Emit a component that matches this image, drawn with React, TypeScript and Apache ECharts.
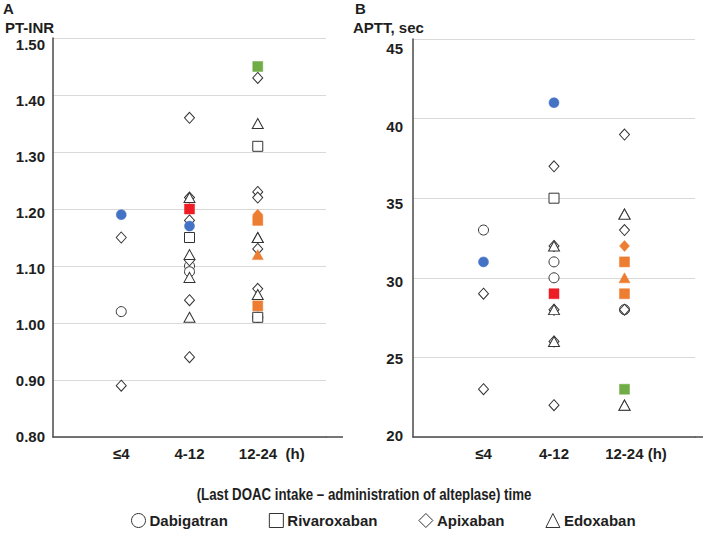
import React, { useEffect, useRef } from "react";
import * as echarts from "echarts";

// ---------- data ----------
const categories = ["≤4", "4-12", "12-24"];
const drugs = ["Dabigatran", "Rivaroxaban", "Apixaban", "Edoxaban"];

const inrTicks = [0.8, 0.9, 1.0, 1.1, 1.2, 1.3, 1.4, 1.5];
const apttTicks = [20, 25, 30, 35, 40, 45];

// PT-INR, open markers: [category index, value]
const inrDabigatran = [[0, 1.02], [1, 1.10], [1, 1.09], [2, 1.01]];
const inrRivaroxaban = [[1, 1.15], [2, 1.31], [2, 1.01]];
const inrApixaban = [[0, 1.15], [0, 0.89], [1, 1.36], [1, 1.22], [1, 1.18], [1, 1.11], [1, 1.04], [1, 0.94], [2, 1.43], [2, 1.23], [2, 1.22], [2, 1.13], [2, 1.06]];
const inrEdoxaban = [[1, 1.22], [1, 1.12], [1, 1.08], [1, 1.01], [2, 1.35], [2, 1.15], [2, 1.15], [2, 1.05]];

// PT-INR, filled markers: [category index, value, case id]
const inrDabigatranCases = [[0, 1.19, 0], [1, 1.17, 0]];
const inrRivaroxabanCases = [[1, 1.20, 1], [2, 1.45, 2], [2, 1.18, 3], [2, 1.03, 3]];
const inrApixabanCases = [[2, 1.19, 3]];
const inrEdoxabanCases = [[2, 1.12, 3]];

// APTT, open markers
const apttDabigatran = [[0, 33], [1, 31], [1, 30], [2, 28]];
const apttRivaroxaban = [[1, 35]];
const apttApixaban = [[0, 29], [0, 23], [1, 37], [1, 32], [1, 28], [1, 26], [1, 22], [2, 39], [2, 33], [2, 28]];
const apttEdoxaban = [[1, 32], [1, 28], [1, 26], [2, 34], [2, 34], [2, 22], [2, 22]];

// APTT, filled markers
const apttDabigatranCases = [[0, 31, 0], [1, 41, 0]];
const apttRivaroxabanCases = [[1, 29, 1], [2, 31, 3], [2, 29, 3], [2, 23, 2]];
const apttApixabanCases = [[2, 32, 3]];
const apttEdoxabanCases = [[2, 30, 3]];

// ---------- styles ----------
const FONT = "'Liberation Sans', Arial, Helvetica, sans-serif";
const caseColors = ["#4472C4", "#EE1C24", "#70AD47", "#ED7D31"];
const symbols = ["circle", "rect", "diamond", "triangle"];
const symbolSizes: any[] = [10, 10, [10, 11], [11, 10]];
const textColor = "#1e1e1e";
const axisColor = "#4a4a4a";

export default function App() {
  const ref = useRef<HTMLDivElement>(null);

  useEffect(() => {
    if (!ref.current) return;
    const chart = echarts.init(ref.current, null, { renderer: "svg" });

    const openSets = [
      [inrDabigatran, inrRivaroxaban, inrApixaban, inrEdoxaban],
      [apttDabigatran, apttRivaroxaban, apttApixaban, apttEdoxaban],
    ];
    const caseSets = [
      [inrDabigatranCases, inrRivaroxabanCases, inrApixabanCases, inrEdoxabanCases],
      [apttDabigatranCases, apttRivaroxabanCases, apttApixabanCases, apttEdoxabanCases],
    ];

    const series: any[] = [];
    [0, 1].forEach((panel) => {
      drugs.forEach((drug, d) => {
        series.push({
          type: "scatter",
          name: drug,
          xAxisIndex: panel,
          yAxisIndex: panel * 2,
          symbol: symbols[d],
          symbolSize: symbolSizes[d],
          itemStyle: { color: "#fff", borderColor: "#333", borderWidth: 1, opacity: 1 },
          data: openSets[panel][d].map((p) => [p[0] + 1, p[1]]),
          z: 3,
          clip: false,
        });
      });
      drugs.forEach((drug, d) => {
        series.push({
          type: "scatter",
          name: drug + " case",
          xAxisIndex: panel,
          yAxisIndex: panel * 2,
          symbol: symbols[d],
          symbolSize: symbolSizes[d],
          data: caseSets[panel][d].map((p) => ({
            value: [p[0] + 1, p[1]],
            itemStyle: { color: caseColors[p[2]], borderColor: caseColors[p[2]], borderWidth: 0.5, opacity: 1 },
          })),
          z: 4,
          clip: false,
        });
      });
    });

    const xLabel = (pad: number) => ({
      show: true,
      interval: 0,
      margin: 9,
      fontSize: 15,
      fontWeight: "bold",
      color: textColor,
      fontFamily: FONT,
      formatter: (v: number) => {
        const i = Math.round(v) - 1;
        if (Math.abs(v - Math.round(v)) > 1e-6 || i < 0 || i > 2) return "";
        if (i === 2) return "{p|}{t|" + categories[i] + (pad > 25 ? "  (h)" : " (h)") + "}";
        return "{t|" + categories[i] + "}";
      },
      rich: {
        p: { width: pad },
        t: { fontSize: 15, fontWeight: "bold", color: textColor, fontFamily: FONT },
      },
    });

    const xAxisBase = (gridIndex: number, pad: number) => ({
      type: "value",
      gridIndex,
      min: 0,
      max: 4,
      interval: 1,
      axisLine: { show: true, lineStyle: { color: axisColor, width: 1.5 } },
      axisTick: { show: false },
      splitLine: { show: false },
      axisLabel: xLabel(pad),
    });

    const mainY = (gridIndex: number, min: number, max: number, interval: number) => ({
      type: "value",
      gridIndex,
      position: "left",
      min,
      max,
      interval,
      axisLine: { show: true, lineStyle: { color: axisColor, width: 1.5 } },
      axisTick: { show: false },
      axisLabel: { show: false },
      splitLine: { show: true, lineStyle: { color: "#d9d9d9", width: 1 } },
    });

    const labelY = (gridIndex: number, min: number, max: number, ticks: number[], digits: number, margin: number) => ({
      type: "value",
      gridIndex,
      position: "left",
      offset: 0,
      min,
      max,
      axisLine: { show: false },
      axisTick: { show: false },
      splitLine: { show: false },
      axisLabel: {
        show: true,
        customValues: ticks,
        margin,
        fontSize: 15,
        fontWeight: "bold",
        color: textColor,
        fontFamily: FONT,
        formatter: (v: number) => v.toFixed(digits),
      },
    });

    const option: any = {
      animation: false,
      textStyle: { fontFamily: FONT },
      grid: [
        { left: 53, top: 38, width: 273, height: 399 },
        { left: 413, top: 39, width: 282, height: 398 },
      ],
      xAxis: [xAxisBase(0, 28), xAxisBase(1, 23)],
      yAxis: [
        mainY(0, 0.8, 1.5, 0.1),
        labelY(0, 0.79911, 1.51248, inrTicks, 2, 8),
        mainY(1, 20, 45, 5),
        labelY(1, 19.935, 45.646, apttTicks, 0, 10),
      ],
      title: [
        { text: "A", left: 3, top: 1, padding: 0, textStyle: { fontSize: 15, fontWeight: "bold", color: textColor, fontFamily: FONT } },
        { text: "PT-INR", left: 5, top: 20, padding: 0, textStyle: { fontSize: 15, fontWeight: "bold", color: textColor, fontFamily: FONT } },
        { text: "B", left: 355, top: 1, padding: 0, textStyle: { fontSize: 15, fontWeight: "bold", color: textColor, fontFamily: FONT } },
        { text: "APTT, sec", left: 353, top: 20, padding: 0, textStyle: { fontSize: 15, fontWeight: "bold", color: textColor, fontFamily: FONT } },
      ],
      legend: {
        left: 131,
        top: 513,
        itemWidth: 14,
        itemHeight: 14,
        itemGap: 41,
        padding: 0,
        selectedMode: false,
        textStyle: { fontSize: 15, fontWeight: "bold", color: textColor, fontFamily: FONT, padding: [0, 0, 0, -1] },
        data: drugs.map((d, i) => ({
          name: d,
          icon: symbols[i],
          itemStyle: { color: "#fff", borderColor: "#333", borderWidth: 1 },
        })),
      },
      graphic: [
        { type: "line", shape: { x1: 326, y1: 437, x2: 343, y2: 437 }, style: { stroke: axisColor, lineWidth: 1.5 } },
        { type: "line", shape: { x1: 695, y1: 437, x2: 703, y2: 437 }, style: { stroke: axisColor, lineWidth: 1.5 } },
        {
          type: "text",
          x: 364,
          y: 495,
          scaleX: 0.83,
          style: {
            text: "(Last DOAC intake – administration of alteplase) time",
            fontSize: 16,
            fontWeight: "bold",
            fontFamily: FONT,
            fill: textColor,
            align: "center",
            verticalAlign: "middle",
          },
        },
      ],
      series,
    };

    chart.setOption(option);
    return () => chart.dispose();
  }, []);

  return (
    <div
      ref={ref}
      style={{ position: "fixed", left: 0, top: 0, width: 709, height: 536, background: "#fff" }}
    />
  );
}
